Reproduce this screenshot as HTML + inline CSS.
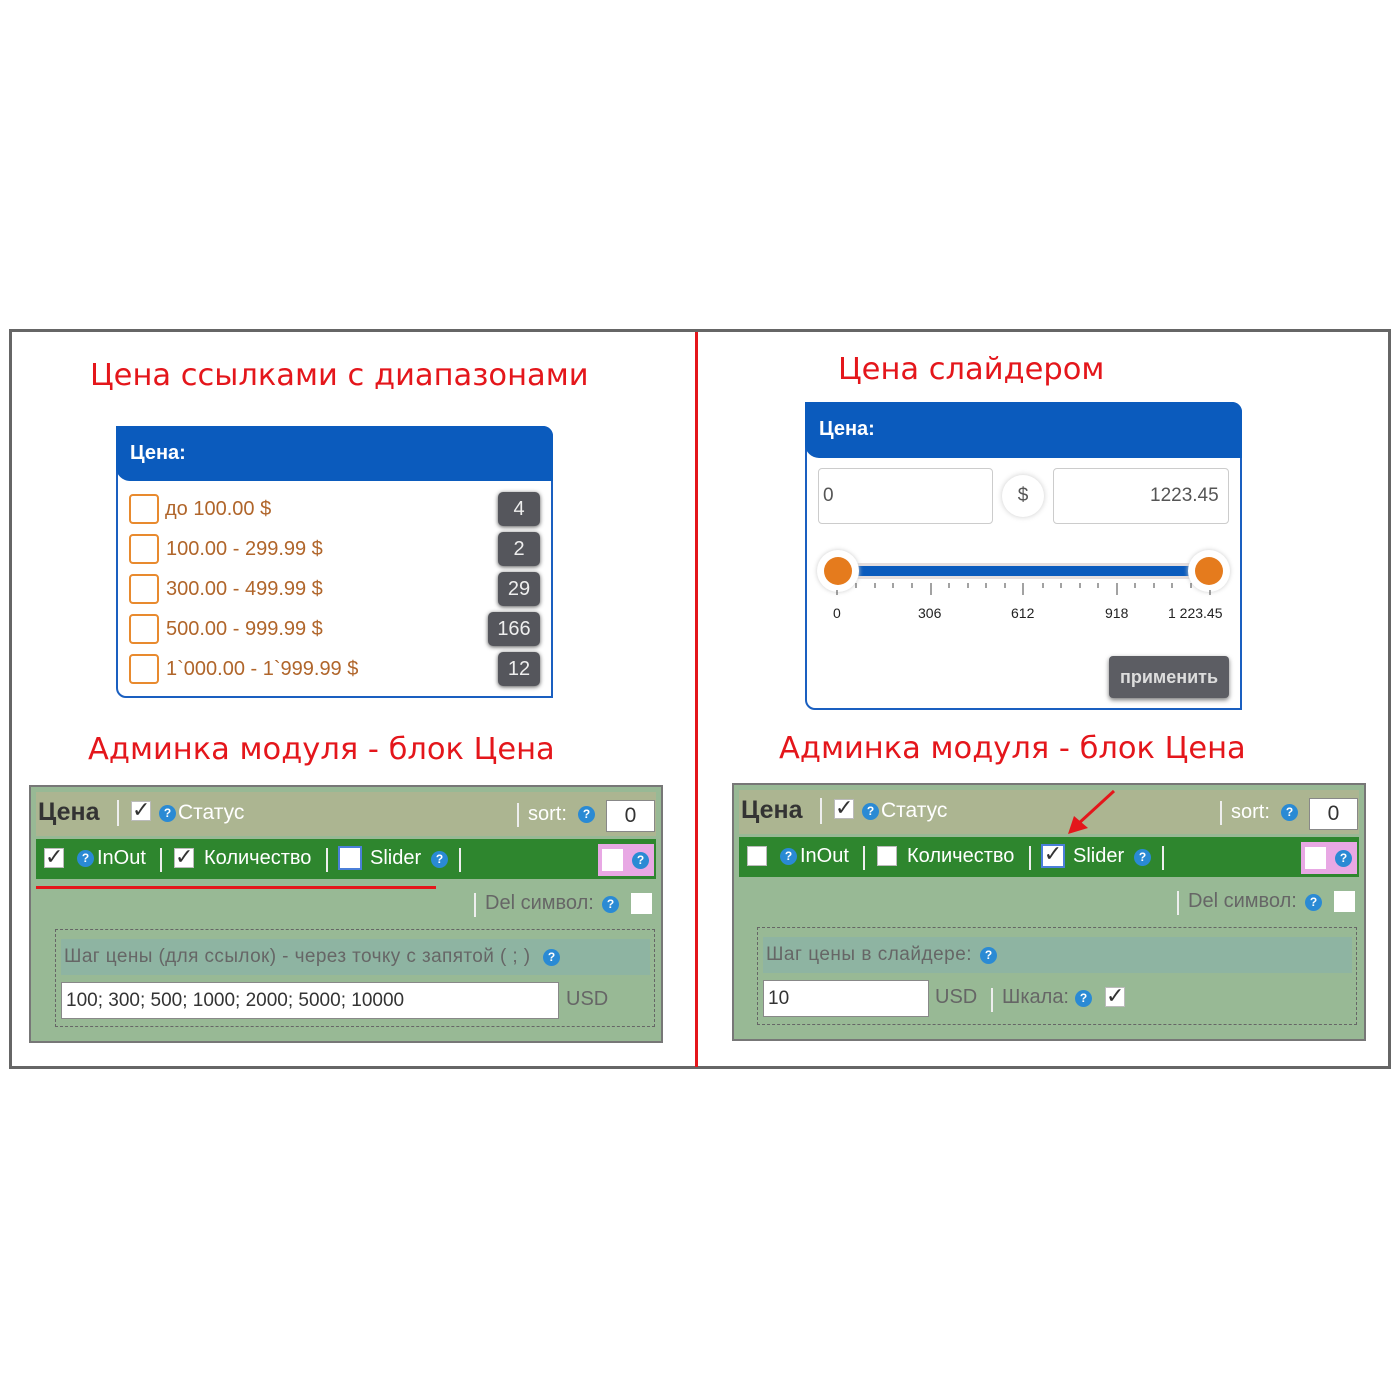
<!DOCTYPE html>
<html><head><meta charset="utf-8"><style>
*{box-sizing:border-box;margin:0;padding:0}
body{width:1400px;height:1400px;background:#fff;position:relative;font-family:"Liberation Sans",sans-serif;overflow:hidden}
.a{position:absolute}
.t{position:absolute;white-space:nowrap}
.q{position:absolute;width:17px;height:17px;border-radius:50%;background:#2a8ad4;color:#fff;font-size:12px;font-weight:bold;text-align:center;line-height:17px}
.cb{position:absolute;width:20px;height:20px;background:#fff;border:1px solid #bbb}
.ck{position:absolute;width:20px;height:20px;background:#fff;border:1px solid #bbb;font-size:22px;line-height:16px;color:#333;text-align:center}
.sep{position:absolute;width:2px;background:#eee}
.ob{position:absolute;width:30px;height:30px;border:2px solid #e88a2e;border-radius:4px;background:#fff}
.badge{position:absolute;height:34px;background:#55565c;border-radius:5px;color:#eee;font-size:20px;line-height:34px;text-align:center;box-shadow:0 1px 4px #555}
.lbl{color:#b0652a;font-size:20px}
.red{color:#e4161b;font-size:30.5px;font-family:"DejaVu Sans",sans-serif}
</style></head><body>
<div class="a" style="left:9px;top:329px;width:1382px;height:740px;border:3px solid #666"></div>
<div class="a" style="left:695px;top:332px;width:3px;height:735px;background:#e4161b"></div>

<div class="t red" style="left:90px;top:358px">Цена ссылками с диапазонами</div>
<div class="t red" style="left:838px;top:352px">Цена слайдером</div>
<div class="t red" style="left:88px;top:732px">Админка модуля - блок Цена</div>
<div class="t red" style="left:779px;top:731px">Админка модуля - блок Цена</div>

<!-- left widget -->
<div class="a" style="left:116px;top:426px;width:437px;height:272px;border:2px solid #1a5fc0;border-radius:0 10px 0 10px;background:#fff"></div>
<div class="a" style="left:116px;top:426px;width:437px;height:55px;background:#0b5bbd;border-radius:0 10px 0 14px"></div>
<div class="t" style="left:130px;top:442px;color:#fff;font-weight:bold;font-size:20px">Цена:</div>
<div class="ob" style="left:129px;top:494px"></div><div class="t lbl" style="left:165px;top:498px">до 100.00 $</div><div class="badge" style="left:498px;top:492px;width:42px">4</div>
<div class="ob" style="left:129px;top:534px"></div><div class="t lbl" style="left:166px;top:538px">100.00 - 299.99 $</div><div class="badge" style="left:498px;top:532px;width:42px">2</div>
<div class="ob" style="left:129px;top:574px"></div><div class="t lbl" style="left:166px;top:578px">300.00 - 499.99 $</div><div class="badge" style="left:498px;top:572px;width:42px">29</div>
<div class="ob" style="left:129px;top:614px"></div><div class="t lbl" style="left:166px;top:618px">500.00 - 999.99 $</div><div class="badge" style="left:488px;top:612px;width:52px">166</div>
<div class="ob" style="left:129px;top:654px"></div><div class="t lbl" style="left:166px;top:658px">1`000.00 - 1`999.99 $</div><div class="badge" style="left:498px;top:652px;width:42px">12</div>

<!-- right widget -->
<div class="a" style="left:805px;top:402px;width:437px;height:308px;border:2px solid #1a5fc0;border-radius:0 10px 0 10px;background:#fff"></div>
<div class="a" style="left:805px;top:402px;width:437px;height:56px;background:#0b5bbd;border-radius:0 10px 0 14px"></div>
<div class="t" style="left:819px;top:418px;color:#fff;font-weight:bold;font-size:20px">Цена:</div>
<div class="a" style="left:818px;top:468px;width:175px;height:56px;border:1px solid #ccc;border-radius:4px"></div>
<div class="t" style="left:823px;top:485px;font-size:19px;color:#555">0</div>
<div class="a" style="left:1002px;top:475px;width:42px;height:42px;border-radius:50%;background:#fff;box-shadow:0 0 6px #ccc;text-align:center;line-height:42px;font-size:19px;color:#555">$</div>
<div class="a" style="left:1053px;top:468px;width:176px;height:56px;border:1px solid #ccc;border-radius:4px"></div>
<div class="t" style="left:1150px;top:485px;font-size:19px;color:#555">1223.45</div>
<div class="a" style="left:840px;top:563px;width:370px;height:16px;background:#e5dede"></div>
<div class="a" style="left:855px;top:566px;width:340px;height:10px;background:#0b5bbd"></div>
<div class="a" style="left:817px;top:550px;width:42px;height:42px;border-radius:50%;background:#fff;box-shadow:0 0 5px #ccc"></div>
<div class="a" style="left:824px;top:557px;width:28px;height:28px;border-radius:50%;background:#e57b1d"></div>
<div class="a" style="left:1188px;top:550px;width:42px;height:42px;border-radius:50%;background:#fff;box-shadow:0 0 5px #ccc"></div>
<div class="a" style="left:1195px;top:557px;width:28px;height:28px;border-radius:50%;background:#e57b1d"></div>
<svg class="a" style="left:830px;top:580px" width="400" height="20">
<g stroke="#444" stroke-width="1">
<line x1="7" y1="10" x2="7" y2="15"/><line x1="101" y1="3" x2="101" y2="15"/><line x1="193" y1="3" x2="193" y2="15"/><line x1="287" y1="3" x2="287" y2="15"/><line x1="380" y1="10" x2="380" y2="15"/>
<line x1="26" y1="3" x2="26" y2="8"/><line x1="45" y1="3" x2="45" y2="8"/><line x1="63" y1="3" x2="63" y2="8"/><line x1="82" y1="3" x2="82" y2="8"/><line x1="119" y1="3" x2="119" y2="8"/><line x1="138" y1="3" x2="138" y2="8"/><line x1="156" y1="3" x2="156" y2="8"/><line x1="175" y1="3" x2="175" y2="8"/><line x1="213" y1="3" x2="213" y2="8"/><line x1="231" y1="3" x2="231" y2="8"/><line x1="250" y1="3" x2="250" y2="8"/><line x1="268" y1="3" x2="268" y2="8"/><line x1="305" y1="3" x2="305" y2="8"/><line x1="324" y1="3" x2="324" y2="8"/><line x1="342" y1="3" x2="342" y2="8"/><line x1="361" y1="3" x2="361" y2="8"/></g></svg>
<div class="t" style="left:833px;top:605px;font-size:14px;color:#222">0</div>
<div class="t" style="left:918px;top:605px;font-size:14px;color:#222">306</div>
<div class="t" style="left:1011px;top:605px;font-size:14px;color:#222">612</div>
<div class="t" style="left:1105px;top:605px;font-size:14px;color:#222">918</div>
<div class="t" style="left:1168px;top:605px;font-size:14px;color:#222">1 223.45</div>
<div class="a" style="left:1109px;top:656px;width:120px;height:42px;background:#5c5d63;border-radius:4px;box-shadow:0 2px 5px #777;color:#ddd;font-weight:bold;font-size:18px;text-align:center;line-height:42px">применить</div>

<!-- left admin -->
<div class="a" style="left:29px;top:785px;width:634px;height:258px;background:#98b995;border:2px solid #777"></div>
<div class="a" style="left:36px;top:792px;width:620px;height:44px;background:#acb591"></div>
<div class="t" style="left:38px;top:798px;font-size:25px;font-weight:bold;color:#333">Цена</div>
<div class="sep" style="left:117px;top:800px;height:26px"></div>
<div class="ck" style="left:131px;top:801px">✓</div>
<div class="q" style="left:159px;top:805px">?</div>
<div class="t" style="left:178px;top:801px;font-size:21px;color:#fff">Статус</div>
<div class="sep" style="left:517px;top:803px;height:24px"></div>
<div class="t" style="left:528px;top:803px;font-size:20px;color:#fff">sort:</div>
<div class="q" style="left:578px;top:806px">?</div>
<div class="a" style="left:606px;top:800px;width:49px;height:32px;background:#fff;border:1px solid #888;text-align:center;font-size:21px;line-height:30px;color:#333">0</div>
<div class="a" style="left:36px;top:839px;width:620px;height:40px;background:#2e862e"></div>
<div class="ck" style="left:44px;top:848px">✓</div>
<div class="q" style="left:77px;top:850px">?</div>
<div class="t" style="left:97px;top:847px;font-size:20px;color:#fff">InOut</div>
<div class="sep" style="left:160px;top:848px;height:24px"></div>
<div class="ck" style="left:174px;top:848px">✓</div>
<div class="t" style="left:204px;top:847px;font-size:20px;color:#fff">Количество</div>
<div class="sep" style="left:326px;top:848px;height:24px"></div>
<div class="cb" style="left:338px;top:846px;width:24px;height:24px;border:2px solid #4b7fd9"></div>
<div class="t" style="left:370px;top:847px;font-size:20px;color:#fff">Slider</div>
<div class="q" style="left:431px;top:851px">?</div>
<div class="sep" style="left:459px;top:848px;height:24px"></div>
<div class="a" style="left:598px;top:844px;width:56px;height:32px;background:#e8a8e4"></div>
<div class="cb" style="left:602px;top:849px;width:21px;height:22px;border:none"></div>
<div class="q" style="left:632px;top:852px">?</div>
<div class="a" style="left:36px;top:886px;width:400px;height:3px;background:#e4161b"></div>
<div class="sep" style="left:474px;top:893px;height:24px"></div>
<div class="t" style="left:485px;top:892px;font-size:20px;color:#666">Del символ:</div>
<div class="q" style="left:602px;top:896px">?</div>
<div class="cb" style="left:631px;top:893px;width:21px;height:21px;border:none"></div>
<div class="a" style="left:55px;top:929px;width:600px;height:98px;border:1px dashed #666"></div>
<div class="a" style="left:61px;top:939px;width:589px;height:36px;background:#8eb4a2"></div>
<div class="t" style="left:64px;top:946px;font-size:19px;color:#666;letter-spacing:0.4px">Шаг цены (для ссылок) - через точку с запятой ( ; )</div>
<div class="q" style="left:543px;top:949px">?</div>
<div class="a" style="left:61px;top:982px;width:498px;height:37px;background:#fff;border:1px solid #888"></div>
<div class="t" style="left:66px;top:990px;font-size:19px;color:#333">100; 300; 500; 1000; 2000; 5000; 10000</div>
<div class="t" style="left:566px;top:988px;font-size:20px;color:#666">USD</div>

<!-- right admin -->
<div class="a" style="left:732px;top:783px;width:634px;height:258px;background:#98b995;border:2px solid #777"></div>
<div class="a" style="left:739px;top:790px;width:620px;height:44px;background:#acb591"></div>
<div class="t" style="left:741px;top:796px;font-size:25px;font-weight:bold;color:#333">Цена</div>
<div class="sep" style="left:820px;top:798px;height:26px"></div>
<div class="ck" style="left:834px;top:799px">✓</div>
<div class="q" style="left:862px;top:803px">?</div>
<div class="t" style="left:881px;top:799px;font-size:21px;color:#fff">Статус</div>
<div class="sep" style="left:1220px;top:801px;height:24px"></div>
<div class="t" style="left:1231px;top:801px;font-size:20px;color:#fff">sort:</div>
<div class="q" style="left:1281px;top:804px">?</div>
<div class="a" style="left:1309px;top:798px;width:49px;height:32px;background:#fff;border:1px solid #888;text-align:center;font-size:21px;line-height:30px;color:#333">0</div>
<div class="a" style="left:739px;top:837px;width:620px;height:40px;background:#2e862e"></div>
<div class="cb" style="left:747px;top:846px"></div>
<div class="q" style="left:780px;top:848px">?</div>
<div class="t" style="left:800px;top:845px;font-size:20px;color:#fff">InOut</div>
<div class="sep" style="left:863px;top:846px;height:24px"></div>
<div class="cb" style="left:877px;top:846px"></div>
<div class="t" style="left:907px;top:845px;font-size:20px;color:#fff">Количество</div>
<div class="sep" style="left:1029px;top:846px;height:24px"></div>
<div class="ck" style="left:1041px;top:844px;width:24px;height:24px;border:2px solid #4b7fd9">✓</div>
<div class="t" style="left:1073px;top:845px;font-size:20px;color:#fff">Slider</div>
<div class="q" style="left:1134px;top:849px">?</div>
<div class="sep" style="left:1162px;top:846px;height:24px"></div>
<div class="a" style="left:1301px;top:842px;width:56px;height:32px;background:#e8a8e4"></div>
<div class="cb" style="left:1305px;top:847px;width:21px;height:22px;border:none"></div>
<div class="q" style="left:1335px;top:850px">?</div>
<svg class="a" style="left:1060px;top:786px" width="60" height="52"><line x1="54" y1="5" x2="18" y2="38" stroke="#e4161b" stroke-width="3"/><polygon points="8,48 14,30 28,42" fill="#e4161b"/></svg>
<div class="sep" style="left:1177px;top:891px;height:24px"></div>
<div class="t" style="left:1188px;top:890px;font-size:20px;color:#666">Del символ:</div>
<div class="q" style="left:1305px;top:894px">?</div>
<div class="cb" style="left:1334px;top:891px;width:21px;height:21px;border:none"></div>
<div class="a" style="left:757px;top:927px;width:600px;height:98px;border:1px dashed #666"></div>
<div class="a" style="left:763px;top:937px;width:589px;height:36px;background:#8eb4a2"></div>
<div class="t" style="left:766px;top:944px;font-size:19px;color:#666;letter-spacing:0.5px">Шаг цены в слайдере:</div>
<div class="q" style="left:980px;top:947px">?</div>
<div class="a" style="left:763px;top:980px;width:166px;height:37px;background:#fff;border:1px solid #888"></div>
<div class="t" style="left:768px;top:988px;font-size:19px;color:#333">10</div>
<div class="t" style="left:935px;top:986px;font-size:20px;color:#666">USD</div>
<div class="sep" style="left:991px;top:988px;height:24px"></div>
<div class="t" style="left:1002px;top:986px;font-size:20px;color:#666">Шкала:</div>
<div class="q" style="left:1075px;top:990px">?</div>
<div class="ck" style="left:1105px;top:987px">✓</div>
</body></html>
